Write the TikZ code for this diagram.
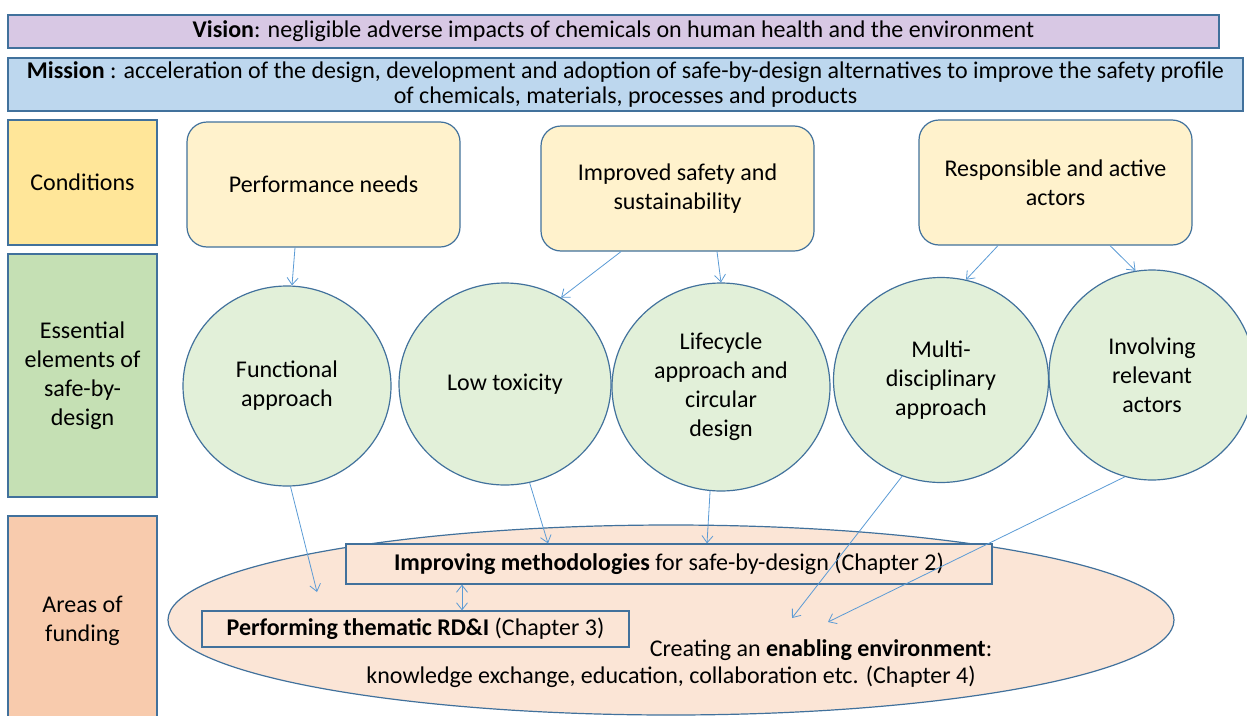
\documentclass[tikz,border=0pt]{standalone}
\usepackage{fontspec}
\setmainfont{Carlito}
\usetikzlibrary{shapes.geometric,arrows.meta}

\definecolor{edgeblue}{RGB}{65,113,156}
\definecolor{arrowblue}{RGB}{91,155,213}
\definecolor{visionfill}{RGB}{216,200,228}
\definecolor{missionfill}{RGB}{189,215,238}
\definecolor{condfill}{RGB}{255,230,153}
\definecolor{essfill}{RGB}{197,224,180}
\definecolor{areafill}{RGB}{248,203,173}
\definecolor{needfill}{RGB}{255,242,204}
\definecolor{elemfill}{RGB}{226,240,217}
\definecolor{fundfill}{RGB}{251,229,214}

\begin{document}
\begin{tikzpicture}[x=1pt, y=-1pt,
	band/.style = {draw=edgeblue, line width=1.2pt, rectangle, inner sep=0pt, align=center, font=\fontsize{24}{25}\selectfont},
	side/.style = {band, minimum width=149pt, font=\fontsize{24}{29}\selectfont},
	need/.style = {band, rounded corners=20pt, fill=needfill, minimum width=273pt, minimum height=125pt, font=\fontsize{24}{29}\selectfont},
	elem/.style = {draw=edgeblue, line width=1.2pt, ellipse, fill=elemfill, inner sep=0pt, align=center, font=\fontsize{24}{29}\selectfont},
	link/.style = {arrowblue, line width=0.8pt, -{Straight Barb[length=7pt,width=11pt]}},
	]
	
	\useasboundingbox (0,0) rectangle (1247,715);
	
	%% TOP BANDS
	
	\node [band, fill=visionfill, minimum width=1211pt, minimum height=33pt] (vision) at (613.5, 31.5)
	{\textbf{Vision}: negligible adverse impacts of chemicals on human health and the environment};
	\node [band, fill=missionfill, minimum width=1235pt, minimum height=53pt] (mission) at (625.5, 84.5)
	{\textbf{Mission} : acceleration of the design, development and adoption of safe-by-design alternatives to improve the safety profile\\
	of chemicals, materials, processes and products};
	
	%% ROW LABELS
	
	\node [side, fill=condfill, minimum height=125pt] (cond) at (82.5, 182.5) {Conditions};
	\node [side, fill=essfill, minimum height=243pt] (ess) at (82.5, 375.5) {Essential\\elements of\\safe-by-\\design};
	\node [side, fill=areafill, minimum height=210pt] (area) at (82.5, 621) {Areas of\\funding};
	
	%% CONDITIONS
	
	\node [need] (perf)  at (323.5, 184.5) {Performance needs};
	\node [need] (safe)  at (677.5, 188.5) {Improved safety and\\sustainability};
	\node [need] (actor) at (1055.5, 182.5) {Responsible and active\\actors};
	
	%% ESSENTIAL ELEMENTS
	
	\node [elem, minimum width=208pt, minimum height=200pt] (func)  at (287, 386)  {Functional\\approach};
	\node [elem, minimum width=212pt, minimum height=202pt] (tox)   at (505, 384)  {Low toxicity};
	\node [elem, minimum width=218pt, minimum height=208pt] (life)  at (721, 387)  {Lifecycle\\approach and\\circular\\design};
	\node [elem, minimum width=215pt, minimum height=205pt] (multi) at (941, 380)  {Multi-\\disciplinary\\approach};
	\node [elem, minimum width=206pt, minimum height=210pt] (invol) at (1152, 375) {Involving\\relevant\\actors};
	
	%% AREAS OF FUNDING
	
	\node [elem, fill=fundfill, minimum width=1006pt, minimum height=190pt] (fund) at (671, 620) {};
	\node [band, fill=fundfill, minimum width=646pt, minimum height=40pt] (meth) at (669, 564)
	{\textbf{Improving methodologies} for safe-by-design (Chapter 2)};
	\node [band, fill=fundfill, minimum width=427pt, minimum height=36pt] (thema) at (415.5, 629)
	{\textbf{Performing thematic RD\&I} (Chapter 3)};
	\node [font=\fontsize{24}{25}\selectfont] (enable) at (821, 650) {Creating an \textbf{enabling environment}:};
	\node [font=\fontsize{24}{25}\selectfont] (enable2) at (671, 677) {knowledge exchange, education, collaboration etc. (Chapter 4)};
	
	% Free arrow ends inside the ellipse
	\coordinate (themaIn) at (317, 592);
	\coordinate (envA) at (792, 618);
	\coordinate (envB) at (828, 622);
	
	%% CONNECTORS
	
	% Conditions to elements
	\draw [link] ([xshift=-28.5pt]perf.south) -- ([xshift=5pt]func.north);
	\draw [link] ([xshift=-56.5pt]safe.south) -- (tox.57);
	\draw [link] ([xshift=39.5pt]safe.south)  -- (life.north);
	\draw [link] ([xshift=-57.5pt]actor.south) -- (multi.76);
	\draw [link] ([xshift=54.5pt]actor.south)  -- (invol.99);
	
	% Elements to areas of funding
	\draw [link] (func.-88)   -- (themaIn);
	\draw [link] (tox.-76)    -- ([xshift=-121pt]meth.north);
	\draw [link] (life.-96)   -- ([xshift=38pt]meth.north);
	\draw [link] (multi.-112) -- (envA);
	\draw [link] (invol.-105) -- (envB);
	
	% Methodologies and thematic RD&I
	\draw [link, {Straight Barb[length=7pt,width=11pt]}-{Straight Barb[length=7pt,width=11pt]}] ([xshift=-207pt]meth.south) -- ([xshift=46.5pt]thema.north);
	
\end{tikzpicture}
\end{document}
